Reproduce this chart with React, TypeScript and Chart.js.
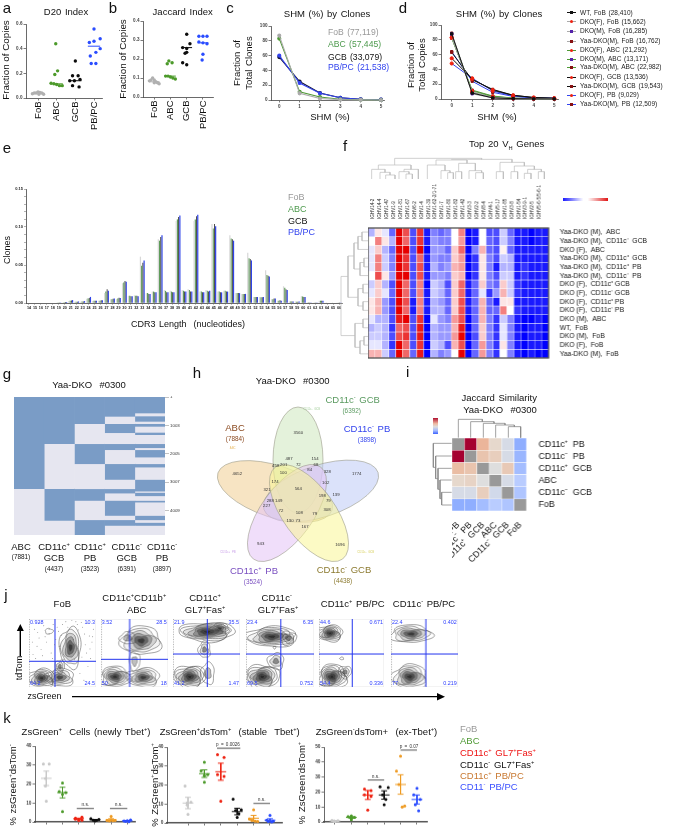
import React, { useEffect, useRef } from "react";
import { Chart, registerables } from "chart.js";
Chart.register(...registerables);
Chart.defaults.font.family = '"Liberation Sans", Arial, sans-serif';

// ---------- a / b ----------
const groups4 = ["FoB", "ABC", "GCB", "PB/PC"];
const aFoB = [0.035, 0.04, 0.04, 0.05, 0.045, 0.04, 0.03, 0.03];
const aABC = [0.44, 0.22, 0.19, 0.12, 0.115, 0.11, 0.1, 0.1];
const aGCB = [0.3, 0.18, 0.18, 0.14, 0.14, 0.15, 0.1, 0.09];
const aPB = [0.56, 0.48, 0.45, 0.46, 0.4, 0.37, 0.34, 0.28, 0.28];
const aMeans = [0.04, 0.115, 0.14, 0.42];
const bFoB = [0.085, 0.09, 0.1, 0.09, 0.08, 0.075, 0.07, 0.075];
const bABC = [0.19, 0.175, 0.18, 0.11, 0.11, 0.105, 0.1, 0.095];
const bGCB = [0.33, 0.28, 0.26, 0.255, 0.235, 0.23, 0.18, 0.17];
const bPB = [0.32, 0.32, 0.32, 0.29, 0.285, 0.28, 0.225, 0.195];
const bMeans = [0.08, 0.11, 0.26, 0.285];
const jitA = [
  [-0.3, -0.2, -0.1, 0, 0.1, 0.2, 0.3, 0.05],
  [-0.05, 0.05, -0.1, -0.3, -0.15, 0, 0.15, 0.3],
  [0, -0.15, 0.15, -0.3, -0.05, 0.25, -0.15, 0.2],
  [0, 0.33, -0.25, 0, 0.33, 0.1, -0.2, -0.15, 0.1],
];
const jitB = [
  [-0.3, -0.2, -0.1, 0, 0.1, 0.2, 0.3, 0],
  [-0.1, -0.2, 0.1, -0.3, -0.15, 0, 0.15, 0.3],
  [0, 0.2, -0.25, 0, 0, -0.1, -0.25, 0],
  [-0.25, 0, 0.25, -0.25, 0, 0.25, 0, -0.05],
];

// ---------- c / d ----------
const shmBins = [0, 1, 2, 3, 4, 5];
const cFoB = [87, 9, 2, 0.5, 0.2, 0.1];
const cABC = [83, 11, 4, 1, 0.3, 0.1];
const cGCB = [58, 25, 9.5, 3, 1, 0.5];
const cPB = [60, 23, 9, 3, 1, 0.5];
const cLegend = ["FoB (77,119)", "ABC (57,445)", "GCB (33,079)", "PB/PC (21,538)"];
const dNames = ["WT, FoB (28,410)", "DKO(F), FoB (15,662)", "DKO(M), FoB (16,285)", "Yaa-DKO(M), FoB (16,762)", "DKO(F), ABC (21,292)", "DKO(M), ABC (13,171)", "Yaa-DKO(M), ABC (22,982)", "DKO(F), GCB (13,536)", "Yaa-DKO(M), GCB (19,543)", "DKO(F), PB (9,029)", "Yaa-DKO(M), PB (12,509)"];
const dWtFoB = [88, 8, 1.5, 0.5, 0.2, 0.1];
const dFFoB = [83, 10, 2, 0.6, 0.2, 0.1];
const dMFoB = [88, 7, 1.5, 0.4, 0.2, 0.1];
const dYFoB = [89, 8, 1.5, 0.5, 0.2, 0.1];
const dFABC = [83, 11, 3.5, 1, 0.3, 0.2];
const dMABC = [87, 9, 3, 0.8, 0.3, 0.1];
const dYABC = [82, 12, 4, 1.2, 0.4, 0.2];
const dFGCB = [55, 27, 12, 5, 2, 1];
const dYGCB = [63, 26, 13, 5, 2, 1];
const dFPB = [48, 28, 11, 4, 1.5, 1];
const dYPB = [64, 24, 9, 3.5, 1.5, 1];
const dSeries = [dWtFoB, dFFoB, dMFoB, dYFoB, dFABC, dMABC, dYABC, dFGCB, dYGCB, dFPB, dYPB];
const dLine = ["#111111", "#aaaaaa", "#aaaaaa", "#aaaaaa", "#4f9a35", "#4f9a35", "#4f9a35", "#111111", "#111111", "#3344ee", "#3344ee"];
const dMark = ["#111111", "#ee2211", "#5522aa", "#881111", "#ee2211", "#5522aa", "#881111", "#ee2211", "#881111", "#ee2211", "#881111"];

// ---------- e ----------
const cdr3 = ["14", "15", "16", "17", "18", "19", "20", "21", "22", "23", "24", "25", "26", "27", "28", "29", "30", "31", "32", "33", "34", "35", "36", "37", "38", "39", "40", "41", "42", "43", "44", "45", "46", "47", "48", "49", "50", "51", "52", "53", "54", "55", "56", "57", "58", "59", "60", "61", "62", "63", "64", "65", "66"];
const eFoB = [0, 0, 0, 0.0002, 0.0003, 0.0005, 0.0008, 0.0025, 0.0015, 0.0018, 0.0055, 0.0025, 0.003, 0.013, 0.005, 0.005, 0.026, 0.0095, 0.01, 0.061, 0.013, 0.015, 0.084, 0.017, 0.016, 0.108, 0.017, 0.018, 0.108, 0.015, 0.017, 0.104, 0.015, 0.016, 0.089, 0.013, 0.012, 0.066, 0.008, 0.008, 0.043, 0.005, 0.003, 0.022, 0.002, 0.002, 0.009, 0.001, 0.0005, 0.003, 0.0002, 0.0002, 0.0005];
const eABC = [0, 0, 0, 0.0002, 0.0002, 0.0005, 0.001, 0.003, 0.0015, 0.002, 0.006, 0.003, 0.003, 0.015, 0.005, 0.006, 0.027, 0.0095, 0.0095, 0.049, 0.013, 0.015, 0.082, 0.016, 0.015, 0.11, 0.016, 0.017, 0.11, 0.015, 0.016, 0.098, 0.015, 0.016, 0.085, 0.013, 0.012, 0.059, 0.008, 0.0075, 0.037, 0.005, 0.003, 0.02, 0.002, 0.0015, 0.0085, 0.0008, 0.0005, 0.003, 0.0002, 0.0002, 0.0005];
const eGCB = [0, 0, 0, 0.0002, 0.0003, 0.0006, 0.0012, 0.0032, 0.0018, 0.002, 0.0065, 0.003, 0.0035, 0.018, 0.0055, 0.007, 0.029, 0.009, 0.0095, 0.053, 0.012, 0.014, 0.087, 0.014, 0.014, 0.113, 0.015, 0.015, 0.114, 0.014, 0.015, 0.104, 0.014, 0.015, 0.084, 0.013, 0.012, 0.058, 0.008, 0.0075, 0.036, 0.006, 0.0035, 0.018, 0.002, 0.0015, 0.008, 0.0008, 0.0005, 0.003, 0.0002, 0.0002, 0.0005];
const ePB = [0, 0, 0, 0.0002, 0.0004, 0.0007, 0.0013, 0.0038, 0.002, 0.0025, 0.008, 0.003, 0.0035, 0.016, 0.006, 0.0065, 0.028, 0.009, 0.009, 0.056, 0.012, 0.014, 0.089, 0.014, 0.014, 0.115, 0.015, 0.015, 0.116, 0.014, 0.016, 0.101, 0.014, 0.015, 0.082, 0.013, 0.012, 0.056, 0.008, 0.008, 0.035, 0.006, 0.003, 0.017, 0.002, 0.002, 0.008, 0.0008, 0.0005, 0.0028, 0.0002, 0.0002, 0.0005];
const eTicks = [0, 0.01, 0.02, 0.03, 0.04, 0.05, 0.06, 0.07, 0.08, 0.09, 0.1, 0.11, 0.12, 0.13, 0.14, 0.15];

// ---------- f ----------
const fCols = ["IGHV14-3", "IGHV14-2", "IGHV14-4", "IGHV1-47", "IGHV1-9", "IGHV1-81", "IGHV1-67", "IGHV6-2", "IGHV1-4", "IGHV1-39", "IGHV1-62-2/1-71", "IGHV1-7", "IGHV1-80", "IGHV1-82", "IGHV1-42", "IGHV3-3", "IGHV2-2", "IGHV8-4", "IGHV4-1", "IGHV5-17", "IGHV1-85", "IGHV3-8", "IGHV1-54", "IGHV3-9-1", "IGHV2-5", "IGHV5-6-5/5-6-1"];
const fRows = ["Yaa-DKO (M),  ABC", "Yaa-DKO (M),  CD11c⁻  GCB", "DKO (F),  ABC", "Yaa-DKO (M),  CD11c⁺  GCB", "Yaa-DKO (M),  CD11c⁺  PB", "Yaa-DKO (M),  CD11c⁻  PB", "DKO (F),  CD11c⁺ GCB", "DKO (F),  CD11c⁻ GCB", "DKO (F),  CD11c⁺ PB", "DKO (F),  CD11c⁻ PB", "DKO (M),  ABC", "WT,  FoB", "DKO (M),  FoB", "DKO (F),  FoB", "Yaa-DKO (M),  FoB"];
const fHeat = [
  [-3, 1, -1, -6, 10, 7, -7, 8, -9, -5, -6, -5, 0, 5, -10, -9, 0, -7, -7, -2, -6, -9, -9, -10, -9, -9],
  [0, 5, 1, -3, 10, 6, -7, 8, -9, -4, -5, -5, 0, 4, -10, -9, 0, -6, -7, -2, -5, -9, -9, -10, -9, -9],
  [-1, 2, -3, -6, 10, 10, -7, 10, -10, -4, -4, -6, 2, 6, -10, -5, 3, -6, -7, 0.5, -6, -9, -9, -9, -9, -9],
  [-1, 5, -2, -5, 10, 8, -7, 6, -9, -4, -5, -5, 2, 4, -10, -8, 1, -5, -7, -2, -3, -9, -9, -9, -9, -9],
  [-1, 5, -2, -5, 10, 8, -7, 7, -9, -3, -5, -4, 3, 4, -10, -8, 1, -5, -9, -3, -3, -9, -8, -9, -9, -9],
  [0, 7, 1, -4, 10, 10, -7, 7, -9, -4, -4, -5, 2, 3, -10, -8, 1, -5, -7, -2, -2, -9, -8, -9, -9, -9],
  [-2, 2, -3, -7, 10, 6, -7, 5, -10, -2, -3, -7, 2, 6, -9, -6, 2, -5, -6, 2, -2, -8, -9, -9, -9, -9],
  [-1, 2, -1, -6, 10, 6, -7, 5, -9, -2, -3, -6, 2, 6, -9, -6, -1, -8, -4, 3, -2, -8, -9, -9, -9, -9],
  [1, 3, -4, -7, 10, 7, -9, 5, -9, -3, -4, -6, 2, 7, -9, -6, 3, -6, -9, 1, 1, -9, -9, -9, -9, -9],
  [1, 3, -4, -7, 10, 6, -9, 5, -9, -3, -3, -6, 2, 7, -9, -6, 3, -6, -6, 5, 0, -8, -9, -9, -9, -9],
  [-1, -3, -3, -7, 9, 10, -7, 8, -10, -1, -4, -5, 4, 7, -10, -6, 3, -5, -8, -2, -5, -9, -10, -10, -9, -10],
  [-3, -2, -3, -8, 6, 7, -7, 9, -10, -3, -4, -4, 3, 9, -10, -6, 2, -5, -8, -1, -5, -9, -10, -9, -9, -10],
  [-2, -2, -3, -7, 7, 8, -7, 9, -10, -3, -4, -4, 4, 10, -10, -7, 2, -5, -8, -1, -5, -9, -10, -9, -9, -10],
  [-1, -1, -3, -8, 10, 6, -7, 8, -10, -2, -3, -7, 3, 7, -10, -6, 4, -5, -8, 1, -5, -9, -10, -9, -9, -10],
  [3, 3, -2, -6, 10, 6, -6, 9, -10, -3, -5, -4, 0, 10, -10, -6, 4, -5, -8, 0, -5, -9, -10, -9, -10, -10],
];
// dendrogram merges: [a, start of a, b, start of b, join height]
const fTopTree = [[110, 147, 150, 127, 118], [135, 147, 165, 135, 127], [152, 147, 180, 147, 135], [192, 147, 222, 132, 125], [213, 147, 232, 147, 132], [207, 125, 250, 147, 118], [130, 118, 228, 118, 105], [277, 147, 330, 122, 105], [318, 147, 345, 128, 122], [338, 147, 355, 147, 128], [362, 147, 380, 147, 125], [402, 147, 440, 128, 122], [422, 147, 445, 147, 128], [371, 125, 421, 122, 100], [303, 105, 396, 100, 90], [484, 147, 505, 147, 125], [528, 147, 548, 147, 125], [568, 147, 588, 147, 130], [610, 147, 628, 147, 125], [578, 130, 619, 125, 118], [538, 125, 598, 118, 108], [495, 125, 568, 108, 97], [350, 90, 531, 97, 88], [179, 105, 440, 88, 85]];
const fLeftTree = [[0, 368, 1, 368, 362], [0.5, 362, 2, 368, 358], [3, 368, 4, 368, 364], [3.5, 364, 5, 368, 360], [1.25, 358, 4.25, 360, 354], [6, 368, 7, 368, 363], [8, 368, 9, 368, 363], [6.5, 363, 8.5, 363, 358], [2.75, 354, 7.5, 358, 348], [10, 368, 11, 368, 363], [12, 368, 13, 368, 364], [12.5, 364, 14, 368, 360], [10.5, 363, 13.25, 360, 355], [11.9, 355, 5.1, 348, 341]];

// ---------- g ----------
const gCols = ["ABC", "CD11c+ GCB", "CD11c+ PB", "CD11c- GCB", "CD11c- PB"];
const gCol1 = [3245, 1652];
const gCol2 = [1652, 1593, 1121, 531];
const gCol3 = [944, 708, 708, 885, 413, 684, 555];
const gCol4 = [684, 260, 319, 389, 212, 496, 555, 330, 153, 260, 531, 153, 200, 354];
const gCol5 = [566, 106, 189, 83, 94, 212, 83, 319, 142, 71, 260, 236, 118, 437, 413, 47, 118, 165, 59, 472, 153, 94, 106, 354];
const gTicks = [0, 1002, 2004, 3006, 4008];

// ---------- h ----------
const vennValues = [3560, 4652, 1774, 487, 154, 458, 201, 72, 68, 100, 84, 328, 174, 102, 321, 564, 139, 288, 149, 198, 79, 227, 72, 108, 79, 308, 130, 73, 167, 943, 1696];
const vennSpots = [[298.3, 433.3], [237.3, 473.7], [356.7, 474.3], [289, 459], [315, 459], [275.7, 466], [283.7, 464.7], [298.3, 464.7], [316, 464.7], [283.3, 473], [309.7, 470], [327.3, 472.3], [275, 481.7], [325.7, 483.3], [267, 490.3], [298.3, 489.3], [336, 495], [270.3, 500.7], [278.7, 501.3], [322.3, 496], [328.3, 501], [266.7, 505.7], [281, 511.3], [299.3, 513.3], [314.7, 513.7], [327, 510], [290, 521], [298, 521], [305, 527], [260.7, 544], [340, 545]];
const petals = [
  { cx: 275, cy: 491.5, a: 60, b: 26, deg: 18, fill: "rgba(240,205,145,0.55)" },
  { cx: 298, cy: 460, a: 53, b: 25, deg: 90, fill: "rgba(205,232,190,0.55)" },
  { cx: 321, cy: 491, a: 60, b: 26, deg: -18, fill: "rgba(190,203,245,0.55)" },
  { cx: 287, cy: 513, a: 57, b: 26, deg: 126, fill: "rgba(228,195,245,0.55)" },
  { cx: 309, cy: 513, a: 57, b: 26, deg: 54, fill: "rgba(250,245,150,0.55)" },
];

// ---------- i ----------
const iLabels = ["CD11c⁺  PB", "CD11c⁻  PB", "CD11c⁺  GCB", "ABC", "CD11c⁻  GCB", "FoB"];
const iHeat = [
  [null, 1, 0.6, 0.3, -0.1, -0.6],
  [1, null, 0.5, 0.4, -0.1, -0.55],
  [0.55, 0.5, null, 0.05, 0.45, -0.5],
  [0.3, 0.35, 0.05, null, -0.1, -0.4],
  [-0.1, -0.1, 0.4, -0.15, null, -0.45],
  [-0.6, -0.6, -0.5, -0.4, -0.45, null],
];
const iTopTree = [[175, 383, 212, 383, 350], [137, 383, 193, 350, 345], [100, 383, 165, 345, 340], [62, 383, 132, 340, 335], [25, 383, 97, 335, 328]];
const iLeftTree = [[547, 725, 585, 725, 695], [510, 725, 566, 695, 690], [475, 725, 538, 690, 684], [438, 725, 506, 684, 677], [400, 725, 472, 677, 670]];

// ---------- j ----------
const jGates = [[38.8, 37.8], [42.7, 40.7], [51.2, 48.5], [51.2, 48.5], [51.2, 48.5], [52, 48.5]];
const jQuad = [["0.928", "10.3", "64.2", "24.5"], ["3.52", "28.5", "50", "18"], ["21.9", "35.5", "41.2", "1.47"], ["23.4", "6.35", "69.5", "0.752"], ["44.6", "0.671", "54.4", "0.336"], ["22.4", "0.402", "77", "0.219"]];
// contour islands: [x, y, rx, ry, levels]
const jBlobs = [
  [[19, 13, 20, 14, 7], [46, 14, 22, 13, 5], [62, 58, 16, 30, 6], [46, 30, 7, 10, 3], [30, 82, 6, 4, 1]],
  [[60, 68, 30, 21, 6], [21, 15, 23, 15, 7], [63, 14, 25, 14, 6], [50, 38, 8, 14, 2], [40, 72, 12, 9, 2]],
  [[51, 81, 42, 14, 8], [25, 15, 24, 17, 8], [47, 55, 9, 12, 3], [52, 20, 10, 16, 2], [70, 86, 14, 8, 5]],
  [[38, 74, 37, 15, 7], [24, 15, 25, 18, 8], [44, 38, 12, 12, 3], [42, 58, 2, 2, 1], [62, 72, 12, 10, 3]],
  [[17, 79, 20, 12, 8], [20, 15, 23, 18, 8], [35, 42, 3, 2, 1], [40, 22, 10, 9, 3]],
  [[30, 78, 31, 13, 6], [28, 15, 26, 18, 7]],
];
const jSprayX = [8, 15, 22, 30, 12, 36, 18, 44, 26, 33, 80, 90, 86, 94, 78, 72, 96, 84, 92, 40, 50, 58, 88, 76, 82, 70, 6, 10, 20, 35, 64, 68, 45, 52, 30, 16, 48, 55, 74, 83, 91, 66, 79, 87, 95, 42, 38, 24, 13, 5];
const jSprayY = [85, 72, 90, 78, 60, 92, 55, 82, 66, 50, 88, 75, 50, 66, 95, 92, 85, 62, 42, 70, 92, 88, 30, 20, 10, 96, 48, 42, 46, 42, 98, 40, 60, 40, 85, 95, 76, 96, 84, 78, 56, 70, 44, 94, 74, 88, 62, 74, 80, 66];

// ---------- k ----------
const k1FoB = [30.5, 30.5, 23, 19, 11];
const k1ABC = [20.5, 16, 15.5, 14.5, 5.5];
const k1Red = [2, 2.5, 1.5, 1, 0.8];
const k1Blk = [1.8, 1.3, 1, 0.8, 0.5];
const k1Org = [3, 0.8, 0.6, 0.7, 0.8];
const k1Blu = [0.7, 0.5, 1.1, 0.3, 0.2];
const k1Mean = [23, 15.5, 1.7, 1.1, 1.2, 0.6];
const k1Sem = [3.8, 2.8, 0.3, 0.2, 0.5, 0.2];
const k2FoB = [19.5, 11, 10.5, 9.5, 4.5];
const k2ABC = [32, 27.5, 25.5, 25, 21.5];
const k2Red = [36, 34.5, 25.5, 24.5, 11.5];
const k2Blk = [12.5, 7, 6.5, 5, 3];
const k2Org = [7, 2, 1.5, 1, 0.8];
const k2Blu = [4, 1.5, 1, 0.8, 0.5];
const k2Mean = [10.5, 26, 27, 6, 2.5, 1.5];
const k2Sem = [3, 2, 4.5, 1.7, 1.5, 0.7];
const k3FoB = [1, 0.8, 0.6, 0.5, 0.4];
const k3ABC = [4, 3.5, 3, 2.5, 1.5];
const k3Red = [22, 21, 18, 17, 8];
const k3Blk = [23.5, 23, 18, 15, 11.5];
const k3Org = [44, 34, 25, 10, 10.7];
const k3Blu = [22.5, 18, 15, 11.5, 7.5];
const k3Mean = [0.7, 3, 18, 18, 25, 15];
const k3Sem = [0.2, 0.5, 3, 2.8, 6.5, 3];
const jitK = [[-0.18, 0.18, -0.05, -0.05, 0], [0, -0.2, 0.2, 0, 0], [-0.2, 0.2, -0.2, 0.2, 0], [-0.25, 0.25, -0.1, 0.1, 0], [0, -0.25, -0.1, 0.1, 0.25], [0, -0.2, 0.2, -0.1, 0.1]];
const k1Bars = [[1.88, 2.94, 7.1], [3.93, 5, 7.1]];
const k2Bars = [[1.77, 3.19, 39.4], [3.99, 5, 10.3]];
const k3Bars = [[2, 3, 28], [4, 5, 48]];

const COL = { gray: "#b0b0b0", green: "#4c9a2a", black: "#0c0c0c", blue: "#2a4cff", red: "#ee2211", orange: "#ee9a22" };

// ---------- helpers ----------
const axis = (size: number, color = "#444", extra: any = {}) => ({
  border: { color: "#444", width: 0.8 },
  grid: { drawOnChartArea: false, drawTicks: true, tickLength: 2.5, color: "#444", lineWidth: 0.7 },
  ticks: { font: { size }, color, padding: 1, autoSkip: false, maxRotation: 0, minRotation: 0 },
  ...extra,
});
const fixed = (vals: number[]) => (a: any) => { a.ticks = vals.map((value) => ({ value })); };

function dotDatasets(cols: string[], vals: number[][], jit: number[][], means: number[], sems: number[] | null, r: number) {
  const out: any[] = [];
  cols.forEach((c, i) => {
    out.push({ data: vals[i].map((y, k) => ({ x: i + jit[i][k], y })), backgroundColor: c, borderColor: c, pointRadius: r, pointBorderWidth: 0, clip: false });
    const m = means[i];
    out.push({ showLine: true, data: [{ x: i - 0.33, y: m }, { x: i + 0.33, y: m }], borderColor: c, borderWidth: 1, pointRadius: 0, clip: false });
    if (sems) {
      const s = sems[i];
      out.push({
        showLine: true, borderColor: c, borderWidth: 1, pointRadius: 0, clip: false,
        data: [{ x: i - 0.18, y: m + s }, { x: i + 0.18, y: m + s }, { x: i, y: null }, { x: i, y: m + s }, { x: i, y: m - s }, { x: i, y: null }, { x: i - 0.18, y: m - s }, { x: i + 0.18, y: m - s }],
      });
    }
  });
  return out;
}
const barSets = (bars: number[][]) => bars.map(([a, b, y]) => ({ showLine: true, data: [{ x: a, y }, { x: b, y }], borderColor: "#555", borderWidth: 1, pointRadius: 0, clip: false }));

function uTop(us: number[][], ox: number, oy: number, k: number) {
  const pts: any[] = [];
  us.forEach(([a, sa, b, sb, h]) => {
    pts.push({ x: ox + a * k, y: oy + sa * k }, { x: ox + a * k, y: oy + h * k }, { x: ox + b * k, y: oy + h * k }, { x: ox + b * k, y: oy + sb * k }, { x: ox + b * k, y: null });
  });
  return pts;
}
function uLeft(us: number[][], ox: number, oy: number, kx: number, ky: number) {
  const pts: any[] = [];
  us.forEach(([a, sa, b, sb, h]) => {
    pts.push({ x: ox + sa * kx, y: oy + a * ky }, { x: ox + h * kx, y: oy + a * ky }, { x: ox + h * kx, y: oy + b * ky }, { x: ox + sb * kx, y: oy + b * ky }, { x: ox + h * kx, y: null });
  });
  return pts;
}
const fColor = (v: number) => {
  const t = Math.abs(v) / 10;
  const c = Math.round(255 * (1 - t));
  return v >= 0 ? `rgb(${Math.round(255 - 25 * t)},${c},${c})` : `rgb(${c},${c},255)`;
};
const iStops: [number, number[]][] = [[-0.6, [143, 174, 255]], [-0.4, [185, 204, 255]], [-0.1, [214, 219, 230]], [0.05, [222, 222, 222]], [0.3, [230, 216, 204]], [0.5, [233, 196, 174]], [0.6, [235, 181, 154]], [1, [165, 0, 48]]];
const iColor = (v: number | null) => {
  if (v === null) return "#999999";
  for (let i = 1; i < iStops.length; i++) {
    if (v <= iStops[i][0]) {
      const [a, ca] = iStops[i - 1], [b, cb] = iStops[i];
      const t = Math.max(0, (v - a) / (b - a));
      return `rgb(${ca.map((c, k) => Math.round(c + (cb[k] - c) * t)).join(",")})`;
    }
  }
  return "#a50030";
};
const framePlugin = (color: string, w: number) => ({
  id: "frame",
  afterDatasetsDraw(ch: any) {
    const { left, top, width, height } = ch.chartArea;
    ch.ctx.save(); ch.ctx.strokeStyle = color; ch.ctx.lineWidth = w; ch.ctx.strokeRect(left, top, width, height); ch.ctx.restore();
  },
});
const heatSets = (rows: any[][], color: (v: any) => string) => rows.map((r) => ({
  data: r.map(() => 1), backgroundColor: r.map(color), borderColor: "#ffffff", borderWidth: 0.5, borderSkipped: false, barPercentage: 1, categoryPercentage: 1,
}));
const contourPlugin = (blobs: number[][]) => ({
  id: "contours",
  beforeDatasetsDraw(ch: any) {
    const { ctx, chartArea: A, scales: { x, y } } = ch;
    ctx.save();
    ctx.beginPath(); ctx.rect(A.left, A.top, A.width, A.height); ctx.clip();
    blobs.forEach(([cx, cy, rx, ry, n]) => {
      const px = x.getPixelForValue(cx), py = y.getPixelForValue(cy);
      for (let i = 0; i < n; i++) {
        const f = 1 - i / n;
        const ph = cx * 0.7 + cy * 0.3 + i * 0.9;
        ctx.beginPath();
        for (let k = 0; k <= 48; k++) {
          const th = (k / 48) * Math.PI * 2;
          const wob = 1 + 0.1 * Math.sin(3 * th + ph) + 0.06 * Math.sin(5 * th + 2 * ph);
          const X = px + ((rx * f * A.width) / 100) * wob * Math.cos(th);
          const Y = py + ((ry * f * A.height) / 100) * wob * Math.sin(th);
          if (k === 0) ctx.moveTo(X, Y); else ctx.lineTo(X, Y);
        }
        ctx.closePath();
        ctx.fillStyle = `rgba(30,30,30,${Math.pow(i / n, 1.5) * 0.8})`;
        ctx.strokeStyle = "#555"; ctx.lineWidth = 0.55;
        if (i > 0) ctx.fill();
        ctx.stroke();
      }
    });
    ctx.restore();
    ctx.save();
    ctx.strokeStyle = "#e2e2e2"; ctx.lineWidth = 0.8; ctx.strokeRect(A.left, A.top, A.width, A.height);
    ctx.strokeStyle = "#666"; ctx.setLineDash([1, 1.5]); ctx.beginPath(); ctx.moveTo(A.left, A.top); ctx.lineTo(A.left, A.bottom); ctx.stroke();
    ctx.restore();
  },
});
const vennPlugin = {
  id: "venn",
  beforeDatasetsDraw(ch: any) {
    const { ctx, scales: { x, y } } = ch;
    ctx.save();
    petals.forEach((p) => {
      ctx.beginPath();
      ctx.ellipse(x.getPixelForValue(p.cx), y.getPixelForValue(p.cy), p.a, p.b, (p.deg * Math.PI) / 180, 0, Math.PI * 2);
      ctx.fillStyle = p.fill; ctx.fill();
      ctx.strokeStyle = "#9a9a8a"; ctx.lineWidth = 0.6; ctx.stroke();
    });
    ctx.restore();
  },
  afterDatasetsDraw(ch: any) {
    const { ctx } = ch;
    const meta = ch.getDatasetMeta(0);
    ctx.save();
    ctx.font = '4.3px "Liberation Sans"'; ctx.fillStyle = "#333"; ctx.textAlign = "center"; ctx.textBaseline = "middle";
    meta.data.forEach((el: any, i: number) => ctx.fillText(String(vennValues[i]), el.x, el.y));
    ctx.restore();
  },
};

type M = { l: number; r: number; t: number; b: number };
type P = { l: number; t: number; r: number; b: number };
type Panel = { id: string; plot: P; m: M; xp: string | null; yp: string | null; make: () => any };
const panels: Panel[] = [];
const add = (id: string, plot: P, m: M, xp: string | null, yp: string | null, make: () => any) => panels.push({ id, plot, m, xp, yp, make });
const linRange = (plotL: number, plotR: number, p0: number, sp: number) => ({ type: "linear", min: (plotL - p0) / sp, max: (plotR - p0) / sp });

function dotPanel(id: string, plot: P, p0: number, sp: number, yMax: number, yTicks: number[], fmt: (v: number) => string, vals: number[][], jit: number[][], means: number[]) {
  add(id, plot, { l: 14, r: 5, t: 4, b: 36 }, "bottom", "left", () => ({
    type: "scatter",
    data: { datasets: dotDatasets([COL.gray, COL.green, COL.black, COL.blue], vals, jit, means, null, 1.7) },
    scales: {
      x: { ...linRange(plot.l, plot.r, p0, sp), ...axis(9.5, "#111"), afterBuildTicks: fixed([0, 1, 2, 3]), ticks: { font: { size: 9.5 }, color: "#111", padding: 1, autoSkip: false, minRotation: 90, maxRotation: 90, callback: (v: number) => groups4[v] } },
      y: { type: "linear", min: 0, max: yMax, ...axis(4.6, "#444"), afterBuildTicks: fixed(yTicks), ticks: { font: { size: 4.6, weight: "bold" }, color: "#444", padding: 1, callback: fmt } },
    },
  }));
}
dotPanel("a", { l: 26, t: 23.7, r: 102, b: 97.7 }, 38, 18.67, 0.6, [0, 0.2, 0.4, 0.6], (v) => v.toFixed(1), [aFoB, aABC, aGCB, aPB], jitA, aMeans);
dotPanel("b", { l: 142.7, t: 20.7, r: 213, b: 97 }, 154, 16.3, 0.4, [0, 0.1, 0.2, 0.3, 0.4], (v) => v.toFixed(1), [bFoB, bABC, bGCB, bPB], jitB, bMeans);

const shmScales = (plot: P, p0: number, sp: number) => ({
  x: { ...linRange(plot.l, plot.r, p0, sp), ...axis(4.6), afterBuildTicks: fixed(shmBins), ticks: { font: { size: 4.6, weight: "bold" }, color: "#444", padding: 1 } },
  y: { type: "linear", min: 0, max: 100, ...axis(4.6), afterBuildTicks: fixed([0, 20, 40, 60, 80, 100]), ticks: { font: { size: 4.6, weight: "bold" }, color: "#444", padding: 1 } },
});
const pairs = (ys: number[]) => ys.map((y, i) => ({ x: shmBins[i], y }));
const plotC = { l: 270.7, t: 25.7, r: 384, b: 100 };
add("c", plotC, { l: 14, r: 3, t: 3, b: 10 }, "bottom", "left", () => ({
  type: "scatter",
  data: {
    datasets: [[cFoB, "#aaaaaa"], [cABC, "#4f9a35"], [cPB, "#3344ee"], [cGCB, "#111133"]].map(([d, c]: any) => ({
      data: pairs(d), showLine: true, borderColor: c, backgroundColor: c, pointRadius: 1.5, borderWidth: 1.1, clip: false,
    })),
  },
  scales: shmScales(plotC, 279, 20.4),
}));
const plotD = { l: 441, t: 24.7, r: 558, b: 99 };
add("d", plotD, { l: 14, r: 3, t: 3, b: 10 }, "bottom", "left", () => ({
  type: "scatter",
  data: {
    datasets: dSeries.map((d, i) => ({
      data: pairs(d), showLine: true, borderColor: dLine[i], backgroundColor: dMark[i], pointBorderColor: dMark[i], pointRadius: 1.6, pointStyle: dMark[i] === "#ee2211" ? "circle" : "rect", borderWidth: 1, clip: false,
    })),
  },
  scales: shmScales(plotD, 451.7, 20.5),
}));

add("e", { l: 25.7, t: 189.3, r: 341.7, b: 303.3 }, { l: 14, r: 2, t: 3, b: 12 }, "bottom", "left", () => ({
  type: "bar",
  data: {
    labels: cdr3,
    datasets: [[eFoB, "#d8d8d8", 1], [eABC, "#5f9c5a", 1], [eGCB, "#111111", 0.6], [ePB, "#2f44e8", 1]].map(([d, c, bp]: any) => ({ data: d, backgroundColor: c, barPercentage: bp, categoryPercentage: 0.82, borderWidth: 0 })),
  },
  scales: {
    x: { type: "category", ...axis(3.7), grid: { drawOnChartArea: false, tickLength: 2, color: "#888", lineWidth: 0.5, offset: false }, ticks: { font: { size: 3.7, weight: "bold" }, color: "#222", padding: 0.5, autoSkip: false, maxRotation: 0, minRotation: 0 } },
    y: {
      type: "linear", min: 0, max: 0.15, ...axis(4), afterBuildTicks: fixed(eTicks), grid: { drawOnChartArea: false, tickLength: 2, color: "#666", lineWidth: 0.5 },
      ticks: { font: { size: 4, weight: "bold" }, color: "#222", padding: 1, autoSkip: false, callback: (v: number) => (Math.abs(v * 20 - Math.round(v * 20)) < 1e-6 ? v.toFixed(2) : "") },
    },
  },
}));

add("f", { l: 368.3, t: 227.7, r: 549.3, b: 358.3 }, { l: 0, r: 125, t: 48, b: 1 }, "top", "right", () => ({
  type: "bar",
  data: { labels: fCols, datasets: heatSets(fHeat, fColor) },
  scales: {
    x: { type: "category", position: "top", stacked: true, border: { display: false }, grid: { display: false }, ticks: { font: { size: 4.6 }, color: "#222", padding: 1, autoSkip: false, minRotation: 90, maxRotation: 90 } },
    y: { type: "linear", position: "right", stacked: true, reverse: true, min: 0, max: fRows.length, border: { display: false }, grid: { display: false }, afterBuildTicks: fixed(fRows.map((_, i) => i + 0.5)), ticks: { font: { size: 6.8 }, color: "#111", padding: 3, autoSkip: false, callback: (v: number) => fRows[Math.floor(v)] } },
  },
  plugins: [framePlugin("#444", 1.2)],
}));

add("g", { l: 14, t: 396.7, r: 165, b: 535 }, { l: 0, r: 24, t: 1, b: 1 }, null, "right", () => {
  const all = [gCol1, gCol2, gCol3, gCol4, gCol5];
  const n = Math.max(...all.map((c) => c.length));
  return {
    type: "bar",
    data: {
      labels: gCols,
      datasets: Array.from({ length: n }, (_, s) => ({ data: all.map((c) => c[s] ?? 0), backgroundColor: s % 2 === 0 ? "#7a9cc6" : "#e6e6f0", barPercentage: 1, categoryPercentage: 1, borderWidth: 0 })),
    },
    scales: {
      x: { type: "category", stacked: true },
      y: { type: "linear", position: "right", stacked: true, reverse: true, min: 0, max: 4880, border: { display: false }, afterBuildTicks: fixed(gTicks), grid: { drawOnChartArea: false, tickLength: 4, color: "#999", lineWidth: 0.6 }, ticks: { font: { size: 4.4 }, color: "#333", padding: 1, callback: (v: number) => String(v + 1) } },
    },
  };
});

const plotH = { l: 210, t: 395, r: 385, b: 570 };
add("h", plotH, { l: 0, r: 0, t: 0, b: 0 }, null, null, () => ({
  type: "scatter",
  data: { datasets: [{ data: vennSpots.map(([x, y]) => ({ x, y })), pointRadius: 0 }] },
  scales: { x: { type: "linear", min: plotH.l, max: plotH.r }, y: { type: "linear", reverse: true, min: plotH.t, max: plotH.b } },
  plugins: [vennPlugin],
}));

add("i", { l: 452.3, t: 437.7, r: 526.7, b: 511 }, { l: 0, r: 100, t: 1, b: 52 }, "bottom", "right", () => ({
  type: "bar",
  data: { labels: iLabels, datasets: heatSets(iHeat, iColor) },
  scales: {
    x: { type: "category", stacked: true, border: { display: false }, grid: { display: false }, ticks: { font: { size: 8.8 }, color: "#111", padding: 1, autoSkip: false, minRotation: 45, maxRotation: 45 } },
    y: { type: "linear", position: "right", stacked: true, reverse: true, min: 0, max: 6, border: { display: false }, grid: { display: false }, afterBuildTicks: fixed([0.5, 1.5, 2.5, 3.5, 4.5, 5.5]), ticks: { font: { size: 8.8 }, color: "#111", padding: 4, autoSkip: false, callback: (v: number) => iLabels[Math.floor(v)] } },
  },
}));

const jFrames = [[29, 96], [100.7, 167.7], [173, 240], [246, 314.3], [319, 384], [391, 457.7]];
jFrames.forEach(([l, r], i) => {
  add("j" + i, { l, t: 619, r, b: 687 }, { l: 0, r: 0, t: 0, b: 0 }, null, null, () => ({
    type: "scatter",
    data: {
      datasets: [
        ...(i === 0 ? [{ data: jSprayX.map((x, k) => ({ x, y: jSprayY[k] })), pointRadius: 0.45, backgroundColor: "#555", pointBorderWidth: 0 }] : []),
        { showLine: true, data: [{ x: jGates[i][0], y: 0 }, { x: jGates[i][0], y: 100 }], borderColor: "#2233ee", borderWidth: 1, pointRadius: 0 },
        { showLine: true, data: [{ x: 0, y: jGates[i][1] }, { x: 100, y: jGates[i][1] }], borderColor: "#2233ee", borderWidth: 1, pointRadius: 0 },
      ],
    },
    scales: { x: { type: "linear", min: 0, max: 100 }, y: { type: "linear", min: 0, max: 100 } },
    plugins: [contourPlugin(jBlobs[i])],
  }));
});

const kCols = ["#c8c8c8", COL.green, COL.red, COL.black, COL.orange, COL.blue];
function kPanel(id: string, plot: P, p0: number, sp: number, yMax: number, yTicks: number[], vals: number[][], means: number[], sems: number[], bars: number[][]) {
  add(id, plot, { l: 14, r: 3, t: 3, b: 6 }, "bottom", "left", () => ({
    type: "scatter",
    data: { datasets: [...dotDatasets(kCols, vals, jitK, means, sems, 1.5), ...barSets(bars)] },
    scales: {
      x: { ...linRange(plot.l, plot.r, p0, sp), ...axis(4), border: { color: "#555", width: 1.5 }, afterBuildTicks: fixed([0, 1, 2, 3, 4, 5]), ticks: { display: false } },
      y: { type: "linear", min: 0, max: yMax, ...axis(5), afterBuildTicks: fixed(yTicks), ticks: { font: { size: 4.8, weight: "bold" }, color: "#444", padding: 1 } },
    },
  }));
}
kPanel("k1", { l: 35, t: 746, r: 135, b: 821.7 }, 46.3, 16.2, 40, [0, 10, 20, 30, 40], [k1FoB, k1ABC, k1Red, k1Blk, k1Org, k1Blu], k1Mean, k1Sem, k1Bars);
kPanel("k2", { l: 166.7, t: 747.3, r: 281.7, b: 822.7 }, 187.7, 16.4, 40, [0, 10, 20, 30, 40], [k2FoB, k2ABC, k2Red, k2Blk, k2Org, k2Blu], k2Mean, k2Sem, k2Bars);
kPanel("k3", { l: 323.7, t: 747.3, r: 427, b: 822 }, 334.7, 16.45, 50, [0, 10, 20, 30, 40, 50], [k3FoB, k3ABC, k3Red, k3Blk, k3Org, k3Blu], k3Mean, k3Sem, k3Bars);

add("trees", { l: 0, t: 0, r: 675, b: 828 }, { l: 0, r: 0, t: 0, b: 0 }, null, null, () => ({
  type: "scatter",
  data: {
    datasets: [
      { showLine: true, pointRadius: 0, borderColor: "#bdbdbd", borderWidth: 0.7, data: [...uTop(fTopTree, 335, 130, 1 / 3), ...uLeft(fLeftTree, 0, 232.05, 1, 8.7)] },
      { showLine: true, pointRadius: 0, borderColor: "#8a8a8a", borderWidth: 0.8, data: [...uTop(iTopTree, 450, 310, 1 / 3), ...uLeft(iLeftTree, 210, 310, 1 / 3, 1 / 3)] },
    ],
  },
  scales: { x: { type: "linear", min: 0, max: 675 }, y: { type: "linear", reverse: true, min: 0, max: 828 } },
}));

function build(p: Panel) {
  const c = p.make();
  const scales = c.scales;
  const { m, xp, yp } = p;
  const noPad = (s: any) => { s.paddingLeft = 0; s.paddingRight = 0; s.paddingTop = 0; s.paddingBottom = 0; };
  if (xp) { scales.x.position = xp; scales.x.afterFit = (s: any) => { s.height = xp === "top" ? m.t : m.b; noPad(s); }; } else scales.x.display = false;
  if (yp) { scales.y.position = yp; scales.y.afterFit = (s: any) => { s.width = yp === "right" ? m.r : m.l; noPad(s); }; } else scales.y.display = false;
  return {
    type: c.type,
    data: c.data,
    plugins: c.plugins ?? [],
    options: {
      responsive: false, maintainAspectRatio: false, animation: false, events: [],
      layout: { autoPadding: false, padding: { top: xp === "top" ? 0 : m.t, bottom: xp === "bottom" ? 0 : m.b, left: yp === "left" ? 0 : m.l, right: yp === "right" ? 0 : m.r } },
      plugins: { legend: { display: false }, tooltip: { enabled: false }, title: { display: false } },
      scales,
    },
  };
}

// ---------- html text ----------
const T = ({ x, y, s = 9.5, c = "#111", a = "c", r = 0, w = 1, children }: any) => (
  <div style={{ position: "absolute", left: x, top: y, fontSize: s, color: c, lineHeight: 1, whiteSpace: "pre", wordSpacing: w, transform: `translate(${a === "l" ? "0" : a === "r" ? "-100%" : "-50%"},-50%) rotate(${r}deg)` }}>{children}</div>
);
const U = ({ children }: any) => <sup style={{ fontSize: "0.6em", lineHeight: 0 }}>{children}</sup>;
const Sub = ({ children }: any) => <sub style={{ fontSize: "0.6em", lineHeight: 0 }}>{children}</sub>;

const letters: [string, number, number][] = [["a", 7, 7], ["b", 113, 7], ["c", 230, 7], ["d", 403, 7], ["e", 7, 147], ["f", 345, 145], ["g", 7, 372.7], ["h", 197, 372], ["i", 407.7, 371], ["j", 6, 594], ["k", 7, 716.7]];
const cLegendY = [32, 44, 56.7, 66.7];
const cLegendC = ["#999999", "#4d9a4d", "#111111", "#3344ee"];
const dLegendY = [12.7, 21.7, 31, 41, 50, 59, 67.3, 77.3, 86, 95, 104];
const eLegend = ["FoB", "ABC", "GCB", "PB/PC"];
const eLegendY = [197, 209, 221, 232];
const eLegendC = ["#999999", "#4d9a4d", "#111111", "#3344ee"];
const kLegendY = [729.3, 741.3, 753, 764.7, 776, 787];

export default function App() {
  const refs = useRef<(HTMLCanvasElement | null)[]>([]);
  useEffect(() => {
    document.body.style.margin = "0";
    const charts = panels.map((p, i) => new Chart(refs.current[i] as HTMLCanvasElement, build(p) as any));
    return () => charts.forEach((c) => c.destroy());
  }, []);
  return (
    <div style={{ position: "absolute", left: 0, top: 0, width: 675, height: 828, overflow: "hidden", background: "#fff", fontFamily: '"Liberation Sans", Arial, sans-serif' }}>
      {panels.map((p, i) => {
        const left = p.plot.l - p.m.l, top = p.plot.t - p.m.t;
        const width = p.plot.r - p.plot.l + p.m.l + p.m.r, height = p.plot.b - p.plot.t + p.m.t + p.m.b;
        return <canvas key={p.id} ref={(el) => { refs.current[i] = el; }} width={width} height={height} style={{ position: "absolute", left, top, width, height }} />;
      })}

      {letters.map(([t, x, y]) => <T key={t} x={x} y={y} s={15}>{t}</T>)}
      <T x={66} y={11.5}>D20 Index</T>
      <T x={182.7} y={11.5}>Jaccard Index</T>
      <T x={6} y={60} s={9.8} w={0} r={-90}>Fraction of Copies</T>
      <T x={123} y={59} s={9.8} w={0} r={-90}>Fraction of Copies</T>

      <T x={327} y={14}>SHM (%) by Clones</T>
      <T x={237} y={63} r={-90}>Fraction of</T>
      <T x={249} y={63} r={-90}>Total Clones</T>
      <T x={330} y={116.7}>SHM (%)</T>
      {cLegend.map((t, i) => <T key={t} x={328} y={cLegendY[i]} a="l" s={8.6} c={cLegendC[i]}>{t}</T>)}

      <T x={499} y={14}>SHM (%) by Clones</T>
      <T x={410.7} y={65} r={-90}>Fraction of</T>
      <T x={422} y={65} r={-90}>Total Copies</T>
      <T x={497} y={117}>SHM (%)</T>
      {dNames.map((t, i) => (
        <React.Fragment key={t}>
          <div style={{ position: "absolute", left: 566.7, top: dLegendY[i] - 0.5, width: 9, height: 1, background: dLine[i] }} />
          <div style={{ position: "absolute", left: 569.5, top: dLegendY[i] - 1.5, width: 3, height: 3, background: dMark[i], borderRadius: dMark[i] === "#ee2211" ? "50%" : 0 }} />
          <T x={580} y={dLegendY[i]} a="l" s={6.5} w={0.9} c="#222">{t}</T>
        </React.Fragment>
      ))}

      <T x={6.5} y={250} r={-90} s={9}>Clones</T>
      <T x={188} y={324} s={9}>CDR3 Length  (nucleotides)</T>
      {eLegend.map((t, i) => <T key={t} x={288} y={eLegendY[i]} a="l" s={9} c={eLegendC[i]}>{t}</T>)}

      <T x={506.7} y={144.3}>Top 20 V<Sub>H</Sub> Genes</T>
      <div style={{ position: "absolute", left: 562.7, top: 198, width: 45, height: 3, background: "linear-gradient(90deg,#1a1aff,#ffffff 45%,#ffffff 55%,#e01515)" }} />

      <T x={89} y={384.7}>Yaa-DKO  #0300</T>
      <T x={21} y={546.7}>ABC</T><T x={21} y={556.7} s={6.4}>(7881)</T>
      <T x={54} y={546.7}>CD11c<U>+</U></T><T x={54} y={558}>GCB</T><T x={54} y={569} s={6.4}>(4437)</T>
      <T x={90} y={546.7}>CD11c<U>+</U></T><T x={90} y={558}>PB</T><T x={90} y={569} s={6.4}>(3523)</T>
      <T x={126.7} y={546.7}>CD11c<U>-</U></T><T x={126.7} y={558}>GCB</T><T x={126.7} y={569} s={6.4}>(6391)</T>
      <T x={162} y={546.7}>CD11c<U>-</U></T><T x={162} y={558}>PB</T><T x={162} y={569} s={6.4}>(3897)</T>

      <T x={292.7} y={381}>Yaa-DKO  #0300</T>
      <T x={352.7} y={400} c="#5a9a60">CD11c<U>-</U> GCB</T><T x={351.7} y={411} s={6.4} c="#5a9a60">(6392)</T>
      <T x={367} y={429} c="#3344ee">CD11c<U>-</U> PB</T><T x={367} y={440} s={6.4} c="#3344ee">(3898)</T>
      <T x={235} y={427.7} c="#8b4a20">ABC</T><T x={235} y={438.7} s={6.4} c="#8b4a20">(7884)</T>
      <T x={254} y={571} c="#7a4fc0">CD11c<U>+</U> PB</T><T x={253} y={582} s={6.4} c="#7a4fc0">(3524)</T>
      <T x={344} y={570} c="#8c7a30">CD11c<U>-</U> GCB</T><T x={343} y={581} s={6.4} c="#8c7a30">(4438)</T>

      <T x={499.3} y={398}>Jaccard Similarity</T>
      <T x={500} y={410}>Yaa-DKO  #0300</T>
      <div style={{ position: "absolute", left: 433, top: 418, width: 5, height: 16, background: "linear-gradient(180deg,#b01030,#eeb8a0 35%,#dedede 55%,#a0b8ff 80%,#3a60ff)" }} />

      <T x={62.3} y={604.3}>FoB</T>
      <T x={134.3} y={598}>CD11c<U>+</U>CD11b<U>+</U></T><T x={136.7} y={610}>ABC</T>
      <T x={205} y={598}>CD11c<U>+</U></T><T x={205} y={610}>GL7<U>+</U>Fas<U>+</U></T>
      <T x={276.7} y={598}>CD11c<U>-</U></T><T x={278} y={610}>GL7<U>+</U>Fas<U>+</U></T>
      <T x={352.7} y={604}>CD11c<U>+</U> PB/PC</T>
      <T x={424} y={604}>CD11c<U>-</U> PB/PC</T>
      {jFrames.map(([l, r], i) => (
        <React.Fragment key={l}>
          <T x={l + 1} y={623.3} a="l" s={5.4} c="#2a3cff">{jQuad[i][0]}</T>
          <T x={r - 1} y={623.3} a="r" s={5.4} c="#2a3cff">{jQuad[i][1]}</T>
          <T x={l + 1} y={684} a="l" s={5.4} c="#2a3cff">{jQuad[i][2]}</T>
          <T x={r - 1} y={684} a="r" s={5.4} c="#2a3cff">{jQuad[i][3]}</T>
        </React.Fragment>
      ))}
      <svg width={675} height={828} style={{ position: "absolute", left: 0, top: 0, pointerEvents: "none" }}>
        <line x1={20.3} y1={656} x2={20.3} y2={628} stroke="#000" strokeWidth={1.4} />
        <polygon points="20.3,624 16.8,631 23.8,631" fill="#000" />
        <line x1={72} y1={696.7} x2={440} y2={696.7} stroke="#000" strokeWidth={1.2} />
        <polygon points="445,696.7 437,693 437,700.4" fill="#000" />
      </svg>
      <T x={19} y={668} r={-90} s={9}>tdTom</T>
      <T x={44.5} y={696} s={9}>zsGreen</T>

      <T x={86} y={731.7}>ZsGreen<U>+</U>  Cells (newly Tbet<U>+</U>)</T>
      <T x={229.7} y={731.7}>ZsGreen<U>+</U>dsTom<U>+</U>  (stable  Tbet<U>+</U>)</T>
      <T x={376.5} y={731.7}>ZsGreen<U>-</U>dsTom+  (ex-Tbet<U>+</U>)</T>
      <T x={13} y={785} r={-90}>% zsGreen<U>+</U>dsTom<U>-</U></T>
      <T x={155} y={785} r={-90}>% ZsGreen<U>+</U>dsTom<U>+</U></T>
      <T x={302} y={783} r={-90}>% ZsGreen<U>-</U>dsTom<U>+</U></T>
      <T x={85.3} y={805} s={4.8} c="#333">n.s.</T>
      <T x={118.7} y={805} s={4.8} c="#333">n.s.</T>
      <T x={228} y={745} s={4.6} c="#333">p = 0.0026</T>
      <T x={261.7} y={800} s={4.8} c="#333">n.s.</T>
      <T x={375.7} y={777.3} s={4.8} c="#333">n.s.</T>
      <T x={409} y={747} s={4.6} c="#333">p = 0.07</T>

      <T x={228} y={552} s={2.8} c="#c9a0e8">CD11c+ PB</T>
      <T x={365.7} y={552} s={2.8} c="#d8d060">CD11c- GCB</T>
      <T x={311.7} y={409} s={2.8} c="#a8d0a0">CD11c- GCB</T>
      <T x={232.7} y={448} s={2.8} c="#e8b860">ABC</T>

      <T x={460} y={kLegendY[0]} a="l" c="#999999">FoB</T>
      <T x={460} y={kLegendY[1]} a="l" c="#4f9a35">ABC</T>
      <T x={460} y={kLegendY[2]} a="l" c="#ee1111">CD11c<U>+</U> GL7<U>+</U>Fas<U>+</U></T>
      <T x={460} y={kLegendY[3]} a="l" c="#111111">CD11c<U>-</U> GL7<U>+</U>Fas<U>+</U></T>
      <T x={460} y={kLegendY[4]} a="l" c="#c87830">CD11c<U>+</U> PB/PC</T>
      <T x={460} y={kLegendY[5]} a="l" c="#3a50ff">CD11<U>-</U> PB/PC</T>
    </div>
  );
}
